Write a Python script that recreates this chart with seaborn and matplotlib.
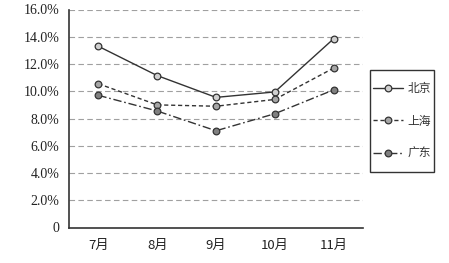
import matplotlib
matplotlib.use("Agg")
import matplotlib.pyplot as plt
import seaborn as sns
import pandas as pd
from matplotlib.ticker import FixedLocator, FuncFormatter
from matplotlib.patches import Rectangle

months = ["7月", "8月", "9月", "10月", "11月"]
beijing = [13.3, 11.15, 9.55, 9.95, 13.85]
shanghai = [10.55, 9.0, 8.9, 9.4, 11.7]
guangdong = [9.7, 8.55, 7.1, 8.35, 10.1]
series_names = ["北京", "上海", "广东"]

sns.set_theme(style="white")
plt.rcParams['font.family'] = ['Liberation Serif', 'Noto Sans CJK SC']
plt.rcParams['axes.unicode_minus'] = False

rows = []
for name, vals in zip(series_names, [beijing, shanghai, guangdong]):
    for i, (m, v) in enumerate(zip(months, vals)):
        rows.append({"idx": i, "month": m, "value": v, "series": name})
df = pd.DataFrame(rows)

W, H = 449, 263
fig = plt.figure(figsize=(W/100, H/100), dpi=100)
ax = fig.add_axes([69/W, 1-227.5/H, (363-69)/W, (227.5-9.5)/H])

styles = {
    "北京": dict(ls="-", mfc="#d0d0d0"),
    "上海": dict(ls=(0, (3, 2)), mfc="#a6a6a6"),
    "广东": dict(ls=(0, (6, 2, 1.2, 2)), mfc="#808080"),
}
for name in series_names:
    sub = df[df.series == name]
    st = styles[name]
    sns.lineplot(data=sub, x="idx", y="value", ax=ax, color="#333333",
                 linestyle=st["ls"], linewidth=1.0, marker="o", markersize=4.8,
                 markerfacecolor=st["mfc"], markeredgecolor="#333333",
                 markeredgewidth=0.9, label=name, legend=False)

ax.set_xlim(-0.5, 4.5)
ax.set_ylim(0, 16)
ax.set_xlabel("")
ax.set_ylabel("")
ax.set_xticks(range(len(months)))
ax.set_xticklabels(months, fontsize=9.5, family=['Noto Sans CJK SC'], color="#222222")
ax.xaxis.set_minor_locator(FixedLocator([-0.5 + i for i in range(6)]))
ax.tick_params(axis='x', which='major', length=0, pad=8)
ax.tick_params(axis='x', which='minor', length=3, direction='in', color='#333333', width=1)
yt = [0, 2, 4, 6, 8, 10, 12, 14, 16]
ax.set_yticks(yt)
ax.yaxis.set_major_formatter(FuncFormatter(lambda v, p: "0" if v == 0 else f"{v:.1f}%"))
ax.tick_params(axis='y', length=0, pad=7, labelsize=10, labelcolor="#222222")
for y in yt[1:]:
    ax.axhline(y, color="#a0a0a0", lw=0.8, ls=(0, (5, 3)), zorder=0)

for s in ["top", "right"]:
    ax.spines[s].set_visible(False)
for s in ["left", "bottom"]:
    ax.spines[s].set_color("#333333")
    ax.spines[s].set_linewidth(1.2)

# legend box
fig.patches.append(Rectangle((370/W, 1-172/H), 64/W, 102/H, transform=fig.transFigure,
                             fill=False, edgecolor="#333333", linewidth=1.0))
handles, labels = ax.get_legend_handles_labels()
leg = fig.legend(handles, labels, loc="center", bbox_to_anchor=(402/W, 1-121/H),
                 frameon=False, prop={'family': 'Noto Sans CJK SC', 'size': 8.5},
                 handlelength=2.5, labelspacing=1.65, borderpad=0.2,
                 handletextpad=0.4, borderaxespad=0)
for t in leg.get_texts():
    t.set_color("#333333")

fig.savefig("out.png", dpi=100)
